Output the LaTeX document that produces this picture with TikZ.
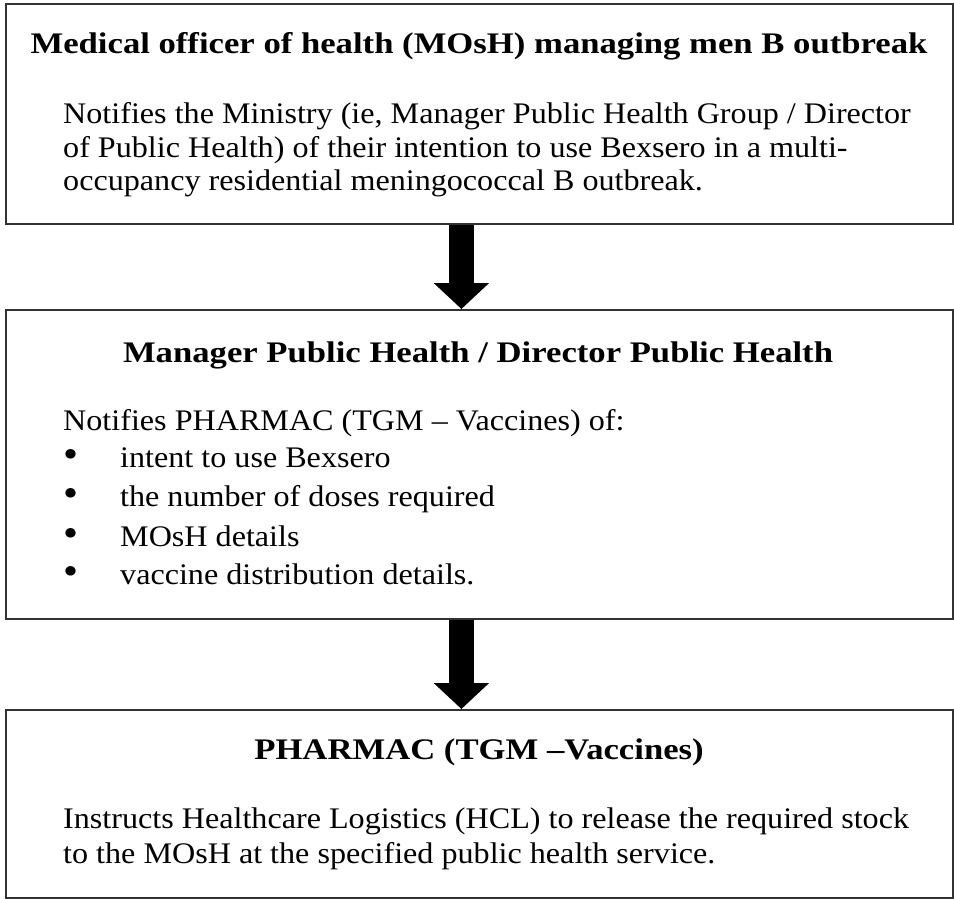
\documentclass[tikz,border=0pt]{standalone}
\usepackage{fontspec}
\setmainfont{Liberation Serif}
\newfontfamily\bodyfont[FakeStretch=1.075,Ligatures=TeX]{Liberation Serif}
\newfontfamily\headfont[FakeStretch=1.16,Ligatures=TeX]{Liberation Serif}
\usetikzlibrary{arrows.meta}
\begin{document}
\begin{tikzpicture}[x=1bp,y=-1bp,
  box/.style={draw=black!80,line width=1.8bp},
  txt/.style={anchor=base west,inner sep=0pt,font=\bodyfont\fontsize{30}{34}\selectfont},
  bul/.style={anchor=base west,inner sep=0pt,font=\bodyfont\fontsize{40}{40}\selectfont},
  ttl/.style={anchor=base,inner sep=0pt,font=\headfont\fontsize{30}{34}\selectfont\bfseries},
  bigarrow/.style={line width=25bp,-{Triangle[length=26bp,width=54bp]},black}]
\useasboundingbox (0,0) rectangle (954,899);
\path[fill=white] (0,0) rectangle (954,899);
% boxes
\node[box,minimum width=947bp,minimum height=220bp,anchor=north west] (box1) at (5,3) {};
\node[box,minimum width=947bp,minimum height=309bp,anchor=north west] (box2) at (5,309) {};
\node[box,minimum width=947bp,minimum height=188bp,anchor=north west] (box3) at (5,709) {};
% box 1 text
\node[ttl] (t1) at (479,53) {Medical officer of health (MOsH) managing men B outbreak};
\node[txt] (b1a) at (63,123) {Notifies the Ministry (ie, Manager Public Health Group / Director};
\node[txt] (b1b) at (63,157) {of Public Health) of their intention to use Bexsero in a multi-};
\node[txt] (b1c) at (63,190) {occupancy residential meningococcal B outbreak.};
% box 2 text
\node[ttl] (t2) at (478,362) {Manager Public Health / Director Public Health};
\node[txt] (b2a) at (63,430) {Notifies PHARMAC (TGM – Vaccines) of:};
\node[bul] (u1) at (63,467) {•};
\node[txt] (i1) at (120,467) {intent to use Bexsero};
\node[bul] (u2) at (63,506) {•};
\node[txt] (i2) at (120,506) {the number of doses required};
\node[bul] (u3) at (63,546) {•};
\node[txt] (i3) at (120,546) {MOsH details};
\node[bul] (u4) at (63,584) {•};
\node[txt] (i4) at (120,584) {vaccine distribution details.};
% box 3 text
\node[ttl] (t3) at (479,759) {PHARMAC (TGM –Vaccines)};
\node[txt] (b3a) at (63,828) {Instructs Healthcare Logistics (HCL) to release the required stock};
\node[txt] (b3b) at (63,863) {to the MOsH at the specified public health service.};
% arrows
\draw[bigarrow] ([xshift=-18bp]box1.south) -- ([xshift=-18bp]box2.north);
\draw[bigarrow] ([xshift=-18bp]box2.south) -- ([xshift=-18bp]box3.north);
\end{tikzpicture}
\end{document}
